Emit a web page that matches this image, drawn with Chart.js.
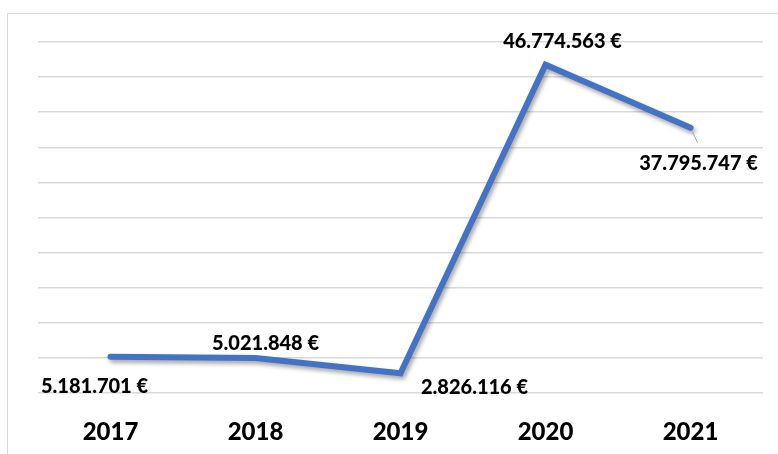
<!DOCTYPE html>
<html>
<head>
<meta charset="utf-8">
<script src="https://cdn.jsdelivr.net/npm/chart.js@4"></script>
<style>
  html, body { margin: 0; padding: 0; background: #fff; overflow: hidden; }
  #wrap { position: relative; width: 778px; height: 454px; }
  #frame { position: absolute; left: 7px; top: 13px; width: 800px; height: 500px; border: 1.5px solid #d9d9d9; box-sizing: border-box; }
  #chart { position: absolute; left: 0; top: 0; }
</style>
</head>
<body>
<div id="wrap">
  <div id="frame"></div>
  <canvas id="chart" width="778" height="454"></canvas>
</div>
<script>
const years = ['2017', '2018', '2019', '2020', '2021'];
const amounts = [5181701, 5021848, 2826116, 46774563, 37795747];
const amountLabels = ['5.181.701 €', '5.021.848 €', '2.826.116 €', '46.774.563 €', '37.795.747 €'];
// label offsets from each point (dx, dy)
const labelOffsets = [[-16, 30], [10, -14], [74, 14], [17, -23], [8, 36]];

const lineShadow = {
  id: 'lineShadow',
  beforeDatasetsDraw(chart) {
    const ctx = chart.ctx;
    ctx.save();
    ctx.shadowColor = 'rgba(0,0,0,0.35)';
    ctx.shadowOffsetX = 2;
    ctx.shadowOffsetY = 3;
    ctx.shadowBlur = 4;
  },
  afterDatasetsDraw(chart) {
    chart.ctx.restore();
  }
};

const valueLabels = {
  id: 'valueLabels',
  afterDraw(chart) {
    const ctx = chart.ctx;
    const pts = chart.getDatasetMeta(0).data;
    ctx.save();
    // leader line for last label
    const last = pts[pts.length - 1];
    ctx.strokeStyle = '#a6a6a6';
    ctx.lineWidth = 1;
    ctx.beginPath();
    ctx.moveTo(last.x + 2, last.y + 4);
    ctx.lineTo(last.x + 7, last.y + 15);
    ctx.stroke();

    ctx.fillStyle = '#000';
    ctx.font = '900 20px Lato';
    ctx.textAlign = 'center';
    ctx.textBaseline = 'middle';
    pts.forEach((p, i) => {
      ctx.fillText(amountLabels[i], p.x + labelOffsets[i][0], p.y + labelOffsets[i][1]);
    });
    ctx.restore();
  }
};

new Chart(document.getElementById('chart').getContext('2d'), {
  type: 'line',
  data: {
    labels: years,
    datasets: [{
      data: amounts,
      borderColor: '#4472c4',
      borderWidth: 6,
      borderCapStyle: 'round',
      borderJoinStyle: 'miter',
      pointRadius: 0,
      fill: false,
      tension: 0
    }]
  },
  options: {
    responsive: false,
    animation: false,
    events: [],
    layout: { padding: { left: 38, right: 15, top: 42, bottom: -18 } },
    plugins: {
      legend: { display: false },
      tooltip: { enabled: false }
    },
    scales: {
      x: {
        offset: true,
        grid: { display: false, drawTicks: false },
        border: { display: false },
        ticks: { color: '#000', font: { family: 'Lato', size: 24, weight: '900' }, padding: 25 }
      },
      y: {
        min: 0,
        max: 50000000,
        ticks: { display: false, stepSize: 5000000 },
        grid: { color: '#d9d9d9', lineWidth: 1.5, drawTicks: false },
        border: { display: false }
      }
    }
  },
  plugins: [lineShadow, valueLabels]
});
</script>
</body>
</html>
